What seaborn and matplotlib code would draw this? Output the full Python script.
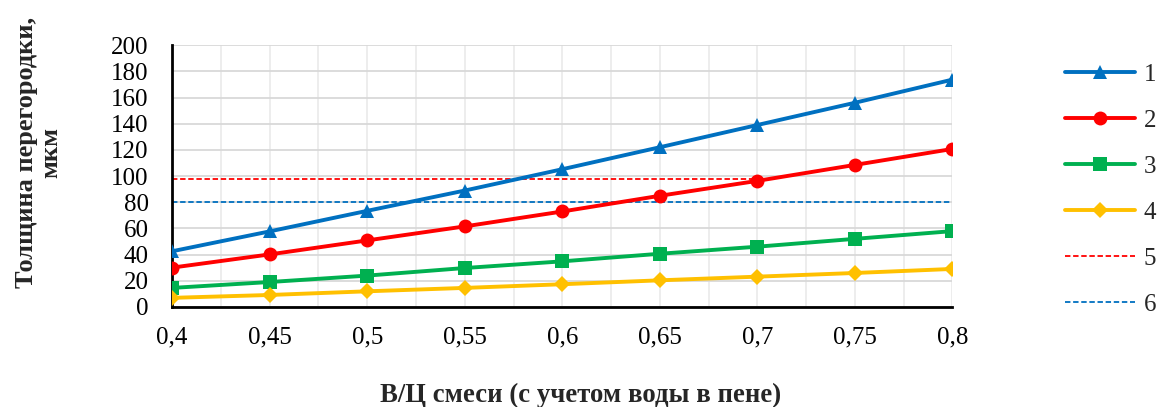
import matplotlib
matplotlib.use("Agg")
import matplotlib.pyplot as plt
import seaborn as sns
import pandas as pd
from matplotlib.ticker import MultipleLocator, FuncFormatter

# data
wc = [0.4, 0.45, 0.5, 0.55, 0.6, 0.65, 0.7, 0.75, 0.8]
s1 = [42.5, 57.7, 73.4, 88.9, 105.2, 122, 139, 156, 173.7]
s2 = [30, 40.1, 50.8, 61.5, 72.9, 84.9, 96.3, 108.5, 120.7]
s3 = [14.5, 19, 23.9, 29.7, 34.8, 40.6, 46, 52, 57.9]
s4 = [6.9, 9.1, 11.9, 14.5, 17.3, 20.3, 23.1, 25.9, 29]
h5_x = [0.4, 0.7]
h5_y = [98, 98]
h6_x = [0.4, 0.8]
h6_y = [80, 80]

names = ["1", "2", "3", "4"]
colors = ["#0070C0", "#FF0000", "#00B050", "#FFC000"]
markers = ["^", "o", "s", "D"]
sizes = [10.5, 10, 9.5, 8]

sns.set_theme(style="white")
plt.rcParams["font.family"] = ["Liberation Serif", "DejaVu Serif"]

fig = plt.figure(figsize=(11.63, 4.07), dpi=100)
ax = fig.add_axes([0.148, 0.246, 0.671, 0.643])

for name, vals, c, m, ms in zip(names, [s1, s2, s3, s4], colors, markers, sizes):
    df = pd.DataFrame({"x": wc, "y": vals})
    sns.lineplot(data=df, x="x", y="y", ax=ax, color=c, linewidth=2.8,
                 marker=m, markersize=ms, markeredgewidth=0, label=name, zorder=3)

sns.lineplot(x=h5_x, y=h5_y, ax=ax, color="#FF0000", linewidth=1.3,
             linestyle=(0, (3, 1.5)), label="5", zorder=2)
sns.lineplot(x=h6_x, y=h6_y, ax=ax, color="#0070C0", linewidth=1.3,
             linestyle=(0, (3, 1.5)), label="6", zorder=2)

ax.set_xlim(0.4, 0.8)
ax.set_ylim(0, 200)
ax.xaxis.set_major_locator(MultipleLocator(0.05))
ax.xaxis.set_minor_locator(MultipleLocator(0.025))
ax.yaxis.set_major_locator(MultipleLocator(20))
ax.xaxis.set_major_formatter(FuncFormatter(lambda v, p: f"{v:.2f}".rstrip("0").rstrip(".").replace(".", ",")))
ax.grid(which="major", axis="y", color="#d9d9d9", linewidth=1.3)
ax.grid(which="both", axis="x", color="#ececec", linewidth=1.3)
ax.set_axisbelow(True)
for side in ["top", "right"]:
    ax.spines[side].set_visible(False)
for side in ["left", "bottom"]:
    ax.spines[side].set_color("black")
    ax.spines[side].set_linewidth(2)
ax.tick_params(axis="both", which="both", length=0, labelsize=18, colors="black")
ax.tick_params(axis="x", pad=14)
ax.tick_params(axis="y", pad=17)

ax.set_xlabel("В/Ц смеси (с учетом воды в пене)", fontsize=19.3, fontweight="bold")
ax.xaxis.set_label_coords(0.524, -0.29)
ax.set_ylabel("Толщина перегородки,\nмкм", fontsize=19, fontweight="bold", linespacing=1.05)
ax.yaxis.set_label_coords(-0.141, 0.59)

leg = ax.legend(loc="upper left", bbox_to_anchor=(1065 / 1163, 0.844),
                bbox_transform=fig.transFigure, frameon=False, fontsize=18,
                handlelength=2.8, labelspacing=0.94, handletextpad=0.35,
                borderpad=0, borderaxespad=0)

fig.savefig("out.png", dpi=100)
